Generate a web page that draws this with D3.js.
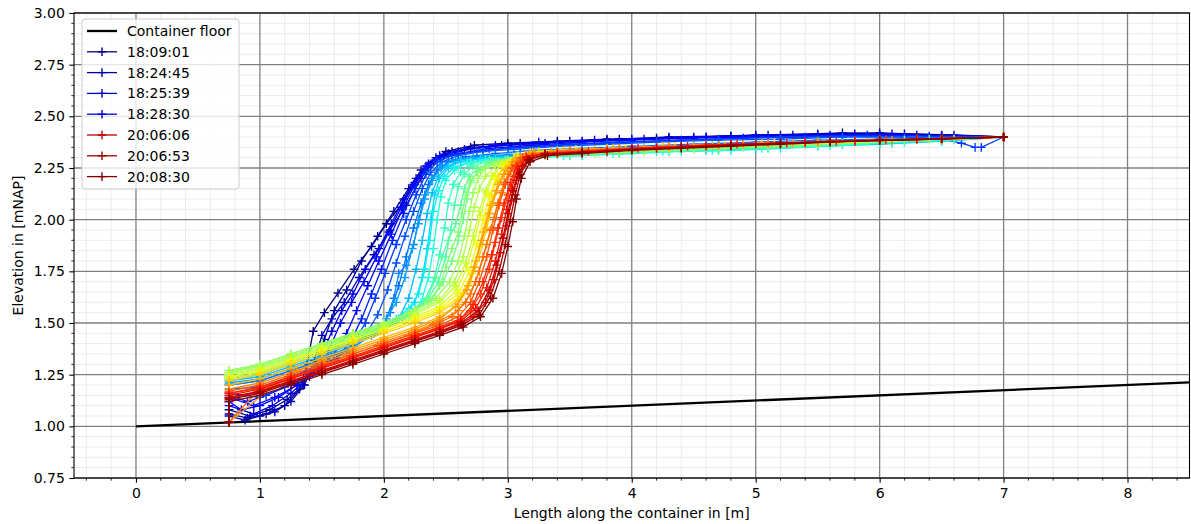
<!DOCTYPE html>
<html>
<head>
<meta charset="utf-8">
<script src="https://cdn.jsdelivr.net/npm/d3@7"></script>
<style>
    body { margin: 0; background: #fff; }
    svg text { font-family: "DejaVu Sans", sans-serif; font-size: 14px; fill: #000; }
</style>
</head>
<body>
<svg id="chart" width="1191" height="524"></svg>
<script>
// container floor, straight line
const floorX = [0, 8.5];
const floorY = [1.0, 1.2125];

const xTicks = [0, 1, 2, 3, 4, 5, 6, 7, 8];
const yTicks = [0.75, 1.0, 1.25, 1.5, 1.75, 2.0, 2.25, 2.5, 2.75, 3.0];

// profiles that get a legend entry
const legendIndex = [0, 1, 2, 3, 37, 38, 39];
const legendTimes = ["18:09:01", "18:24:45", "18:25:39", "18:28:30", "20:06:06", "20:06:53", "20:08:30"];

// measured bed profiles [x, z], in time order
const profiles = [
    [[0.75,1.02],[0.75,1.06],[0.9,1.04],[1.05,1.06],[1.2,1.1],[1.32,1.18],[1.38,1.3],[1.43,1.46],[1.52,1.55],[1.63,1.645],[1.76,1.76],[1.9,1.87],[2.02,1.98],[2.15,2.08],[2.25,2.18],[2.38,2.27],[2.5,2.33],[2.73,2.36],[3.0,2.37],[3.4,2.38],[3.8,2.39],[4.2,2.395],[4.6,2.4],[5.0,2.41],[5.5,2.415],[6.0,2.42],[6.5,2.41],[7.0,2.4]],
    [[0.75,1.02],[0.75,1.08],[0.92,1.05],[1.08,1.08],[1.22,1.13],[1.35,1.2],[1.45,1.3],[1.52,1.42],[1.6,1.56],[1.7,1.66],[1.82,1.8],[1.95,1.92],[2.08,2.04],[2.2,2.15],[2.3,2.24],[2.42,2.3],[2.55,2.33],[2.8,2.35],[3.1,2.37],[3.5,2.38],[3.9,2.39],[4.3,2.4],[4.8,2.405],[5.2,2.41],[5.7,2.42],[6.2,2.415],[6.6,2.41],[7.0,2.4]],
    [[0.75,1.02],[0.75,1.05],[0.88,1.03],[1.0,1.05],[1.12,1.07],[1.25,1.12],[1.36,1.2],[1.44,1.32],[1.5,1.44],[1.58,1.52],[1.68,1.6],[1.8,1.72],[1.92,1.83],[2.05,1.95],[2.18,2.07],[2.3,2.2],[2.4,2.28],[2.52,2.32],[2.7,2.35],[3.0,2.36],[3.4,2.375],[3.8,2.385],[4.3,2.395],[4.8,2.405],[5.3,2.41],[5.8,2.415],[6.3,2.41],[7.0,2.4]],
    [[0.75,1.02],[0.75,1.1],[0.95,1.06],[1.1,1.1],[1.25,1.16],[1.4,1.24],[1.5,1.34],[1.58,1.46],[1.66,1.56],[1.75,1.64],[1.85,1.76],[1.96,1.86],[2.06,1.98],[2.16,2.1],[2.26,2.2],[2.36,2.27],[2.48,2.31],[2.65,2.34],[2.95,2.36],[3.3,2.37],[3.7,2.385],[4.1,2.39],[4.6,2.4],[5.1,2.41],[5.6,2.41],[6.1,2.415],[6.5,2.4],[7.0,2.4]],
    [[0.75,1.02],[0.75,1.12],[0.85,1.08],[1.0,1.1],[1.15,1.14],[1.3,1.2],[1.45,1.27],[1.55,1.36],[1.65,1.5],[1.74,1.6],[1.84,1.7],[1.94,1.82],[2.04,1.94],[2.14,2.06],[2.24,2.17],[2.34,2.26],[2.45,2.31],[2.6,2.33],[2.9,2.36],[3.25,2.375],[3.6,2.38],[4.0,2.39],[4.5,2.4],[5.0,2.405],[5.5,2.41],[6.0,2.41],[6.5,2.405],[7.0,2.4]],
    [[0.75,1.02],[0.75,1.14],[0.95,1.1],[1.12,1.14],[1.3,1.2],[1.45,1.27],[1.6,1.35],[1.7,1.45],[1.78,1.56],[1.87,1.68],[1.96,1.8],[2.06,1.93],[2.15,2.05],[2.25,2.17],[2.35,2.26],[2.46,2.3],[2.6,2.32],[2.85,2.345],[3.2,2.36],[3.6,2.375],[4.0,2.385],[4.5,2.395],[5.0,2.4],[5.5,2.41],[6.0,2.41],[6.5,2.405],[7.0,2.4]],
    [[0.75,1.02],[0.75,1.15],[0.9,1.12],[1.05,1.15],[1.25,1.2],[1.45,1.26],[1.62,1.33],[1.74,1.42],[1.82,1.52],[1.9,1.64],[1.98,1.76],[2.07,1.9],[2.16,2.03],[2.25,2.15],[2.33,2.24],[2.42,2.29],[2.55,2.315],[2.8,2.335],[3.1,2.35],[3.5,2.365],[3.9,2.375],[4.4,2.385],[4.9,2.395],[5.4,2.4],[5.9,2.41],[6.4,2.405],[7.0,2.4]],
    [[0.75,1.02],[0.75,1.16],[1.0,1.14],[1.2,1.19],[1.4,1.25],[1.6,1.32],[1.75,1.4],[1.85,1.5],[1.93,1.62],[2.01,1.74],[2.1,1.88],[2.18,2.0],[2.26,2.12],[2.34,2.22],[2.43,2.28],[2.55,2.31],[2.75,2.33],[3.0,2.345],[3.4,2.36],[3.8,2.37],[4.2,2.38],[4.7,2.39],[5.2,2.4],[5.7,2.405],[6.2,2.4],[6.5,2.39],[6.66,2.37],[6.77,2.35],[6.82,2.35],[7.0,2.4]],
    [[0.75,1.02],[0.75,1.18],[1.0,1.19],[1.25,1.24],[1.5,1.3],[1.7,1.36],[1.85,1.44],[1.95,1.54],[2.03,1.66],[2.1,1.79],[2.17,1.92],[2.24,2.04],[2.31,2.15],[2.38,2.23],[2.47,2.28],[2.6,2.31],[2.8,2.33],[3.05,2.34],[3.4,2.355],[3.8,2.365],[4.2,2.375],[4.7,2.385],[5.2,2.39],[5.7,2.4],[6.2,2.4],[6.6,2.4],[7.0,2.4]],
    [[0.75,1.02],[0.75,1.2],[1.0,1.22],[1.25,1.27],[1.5,1.32],[1.75,1.39],[1.95,1.46],[2.05,1.55],[2.12,1.68],[2.18,1.82],[2.24,1.96],[2.3,2.08],[2.36,2.17],[2.43,2.24],[2.52,2.28],[2.66,2.305],[2.9,2.32],[3.2,2.335],[3.6,2.345],[4.0,2.355],[4.5,2.365],[5.0,2.375],[5.5,2.385],[6.0,2.39],[6.5,2.395],[7.0,2.4]],
    [[0.75,1.02],[0.75,1.2],[1.0,1.22],[1.25,1.27],[1.5,1.32],[1.75,1.38],[1.92,1.45],[2.02,1.52],[2.08,1.62],[2.12,1.74],[2.18,1.78],[2.24,1.88],[2.28,2.0],[2.33,2.12],[2.39,2.2],[2.47,2.26],[2.58,2.29],[2.75,2.305],[3.0,2.315],[3.4,2.325],[3.8,2.335],[4.2,2.345],[4.6,2.35],[5.0,2.36],[5.5,2.37],[6.0,2.38],[6.5,2.39],[7.0,2.4]],
    [[0.75,1.02],[0.75,1.21],[1.0,1.23],[1.25,1.28],[1.5,1.33],[1.75,1.39],[1.9,1.44],[2.0,1.5],[2.1,1.6],[2.17,1.72],[2.23,1.86],[2.28,1.98],[2.33,2.1],[2.39,2.19],[2.46,2.25],[2.56,2.285],[2.72,2.3],[3.0,2.31],[3.4,2.32],[3.8,2.33],[4.2,2.34],[4.6,2.35],[5.0,2.355],[5.5,2.365],[6.0,2.375],[6.5,2.385],[7.0,2.4]],
    [[0.75,1.02],[0.75,1.22],[1.0,1.24],[1.25,1.29],[1.5,1.34],[1.75,1.4],[2.0,1.46],[2.12,1.52],[2.2,1.62],[2.26,1.76],[2.31,1.9],[2.35,2.03],[2.39,2.13],[2.44,2.21],[2.52,2.26],[2.62,2.29],[2.8,2.3],[3.1,2.31],[3.5,2.32],[3.9,2.33],[4.3,2.335],[4.7,2.34],[5.1,2.35],[5.6,2.36],[6.1,2.37],[6.5,2.38],[7.0,2.4]],
    [[0.75,1.02],[0.75,1.22],[1.0,1.25],[1.25,1.3],[1.5,1.35],[1.75,1.41],[2.0,1.47],[2.15,1.52],[2.25,1.6],[2.31,1.72],[2.35,1.86],[2.38,2.0],[2.41,2.12],[2.45,2.2],[2.52,2.25],[2.62,2.28],[2.78,2.295],[3.05,2.305],[3.4,2.315],[3.8,2.325],[4.2,2.33],[4.6,2.335],[5.0,2.34],[5.5,2.355],[6.0,2.365],[6.5,2.38],[7.0,2.4]],
    [[0.75,1.02],[0.75,1.23],[1.0,1.26],[1.25,1.31],[1.5,1.36],[1.75,1.42],[1.95,1.47],[2.1,1.52],[2.2,1.57],[2.28,1.64],[2.33,1.76],[2.37,1.9],[2.4,2.04],[2.44,2.14],[2.49,2.21],[2.57,2.255],[2.7,2.28],[2.9,2.295],[3.2,2.3],[3.6,2.31],[4.0,2.32],[4.4,2.33],[4.8,2.335],[5.2,2.345],[5.7,2.36],[6.2,2.375],[6.6,2.385],[7.0,2.4]],
    [[0.75,1.02],[0.75,1.23],[1.0,1.26],[1.25,1.31],[1.5,1.36],[1.75,1.42],[2.0,1.48],[2.2,1.53],[2.3,1.6],[2.36,1.72],[2.4,1.86],[2.43,2.0],[2.46,2.11],[2.5,2.19],[2.57,2.24],[2.67,2.275],[2.82,2.29],[3.1,2.3],[3.45,2.31],[3.85,2.32],[4.25,2.33],[4.65,2.335],[5.05,2.345],[5.5,2.355],[6.0,2.37],[6.5,2.385],[7.0,2.4]],
    [[0.75,1.02],[0.75,1.24],[1.0,1.27],[1.25,1.32],[1.5,1.37],[1.75,1.43],[2.0,1.49],[2.2,1.54],[2.32,1.6],[2.4,1.7],[2.45,1.83],[2.49,1.96],[2.52,2.08],[2.56,2.17],[2.62,2.23],[2.7,2.27],[2.85,2.29],[3.1,2.3],[3.5,2.31],[3.9,2.32],[4.3,2.33],[4.7,2.335],[5.1,2.345],[5.6,2.36],[6.1,2.375],[6.5,2.385],[7.0,2.4]],
    [[0.75,1.02],[0.75,1.25],[1.0,1.28],[1.25,1.33],[1.5,1.38],[1.75,1.44],[2.0,1.5],[2.2,1.55],[2.35,1.61],[2.44,1.7],[2.5,1.82],[2.54,1.95],[2.57,2.07],[2.6,2.16],[2.65,2.22],[2.72,2.26],[2.86,2.285],[3.1,2.3],[3.5,2.31],[3.9,2.32],[4.3,2.33],[4.7,2.34],[5.1,2.35],[5.6,2.36],[6.1,2.375],[6.5,2.385],[7.0,2.4]],
    [[0.75,1.02],[0.75,1.26],[1.0,1.29],[1.25,1.34],[1.5,1.39],[1.75,1.45],[2.0,1.5],[2.2,1.55],[2.35,1.62],[2.42,1.72],[2.47,1.82],[2.52,1.9],[2.58,1.98],[2.62,2.07],[2.65,2.15],[2.69,2.21],[2.76,2.25],[2.88,2.28],[3.1,2.3],[3.5,2.315],[3.9,2.325],[4.3,2.335],[4.7,2.345],[5.1,2.355],[5.6,2.365],[6.1,2.38],[6.5,2.39],[7.0,2.4]],
    [[0.75,1.02],[0.75,1.27],[1.0,1.3],[1.25,1.35],[1.5,1.4],[1.75,1.45],[2.0,1.5],[2.2,1.55],[2.38,1.61],[2.48,1.7],[2.55,1.8],[2.6,1.9],[2.64,2.0],[2.67,2.1],[2.7,2.18],[2.75,2.23],[2.84,2.27],[2.98,2.29],[3.2,2.305],[3.6,2.32],[4.0,2.33],[4.4,2.34],[4.8,2.35],[5.2,2.36],[5.7,2.37],[6.2,2.385],[6.6,2.39],[7.0,2.4]],
    [[0.75,1.02],[0.75,1.26],[1.0,1.3],[1.25,1.35],[1.5,1.4],[1.75,1.45],[2.0,1.5],[2.2,1.55],[2.36,1.6],[2.45,1.68],[2.5,1.77],[2.55,1.86],[2.6,1.94],[2.63,2.03],[2.66,2.12],[2.7,2.19],[2.78,2.24],[2.9,2.275],[3.05,2.295],[3.3,2.31],[3.7,2.32],[4.1,2.33],[4.5,2.34],[4.9,2.35],[5.4,2.36],[5.9,2.375],[6.4,2.39],[7.0,2.4]],
    [[0.75,1.02],[0.75,1.27],[1.0,1.3],[1.25,1.35],[1.5,1.4],[1.75,1.45],[2.0,1.5],[2.25,1.56],[2.42,1.62],[2.53,1.7],[2.6,1.8],[2.65,1.92],[2.69,2.04],[2.72,2.13],[2.76,2.2],[2.82,2.25],[2.92,2.28],[3.08,2.3],[3.3,2.31],[3.7,2.325],[4.1,2.335],[4.5,2.345],[4.9,2.355],[5.3,2.365],[5.8,2.375],[6.3,2.385],[7.0,2.4]],
    [[0.75,1.02],[0.75,1.26],[1.0,1.29],[1.25,1.34],[1.5,1.39],[1.75,1.44],[2.0,1.49],[2.25,1.55],[2.45,1.61],[2.57,1.7],[2.64,1.82],[2.69,1.95],[2.73,2.06],[2.77,2.15],[2.82,2.21],[2.9,2.26],[3.0,2.29],[3.15,2.305],[3.4,2.315],[3.8,2.33],[4.2,2.34],[4.6,2.35],[5.0,2.36],[5.5,2.37],[6.0,2.38],[6.5,2.39],[7.0,2.4]],
    [[0.75,1.02],[0.75,1.25],[1.0,1.28],[1.25,1.33],[1.5,1.38],[1.75,1.43],[2.0,1.48],[2.25,1.54],[2.45,1.6],[2.58,1.68],[2.66,1.79],[2.72,1.92],[2.77,2.04],[2.82,2.14],[2.87,2.21],[2.95,2.27],[3.05,2.3],[3.2,2.32],[3.5,2.33],[3.9,2.34],[4.3,2.35],[4.7,2.355],[5.1,2.36],[5.5,2.37],[6.0,2.38],[6.5,2.39],[7.0,2.4]],
    [[0.75,1.02],[0.75,1.24],[1.0,1.27],[1.25,1.32],[1.5,1.37],[1.75,1.42],[2.0,1.47],[2.25,1.53],[2.45,1.58],[2.59,1.66],[2.67,1.77],[2.73,1.9],[2.78,2.02],[2.83,2.13],[2.88,2.21],[2.95,2.27],[3.05,2.3],[3.18,2.325],[3.4,2.335],[3.8,2.345],[4.2,2.35],[4.6,2.36],[5.0,2.365],[5.5,2.375],[6.0,2.385],[6.5,2.39],[7.0,2.4]],
    [[0.75,1.02],[0.75,1.24],[1.0,1.27],[1.25,1.32],[1.5,1.37],[1.75,1.42],[2.0,1.47],[2.25,1.52],[2.45,1.57],[2.6,1.64],[2.69,1.75],[2.75,1.88],[2.8,2.0],[2.85,2.11],[2.9,2.2],[2.97,2.26],[3.07,2.3],[3.22,2.32],[3.5,2.335],[3.9,2.345],[4.3,2.35],[4.7,2.36],[5.1,2.365],[5.5,2.37],[6.0,2.38],[6.5,2.39],[7.0,2.4]],
    [[0.75,1.02],[0.75,1.23],[1.0,1.26],[1.25,1.31],[1.5,1.36],[1.75,1.41],[2.0,1.46],[2.25,1.51],[2.45,1.56],[2.62,1.63],[2.71,1.74],[2.77,1.87],[2.82,2.0],[2.87,2.12],[2.92,2.21],[2.99,2.27],[3.08,2.31],[3.25,2.33],[3.55,2.34],[3.95,2.345],[4.35,2.355],[4.75,2.36],[5.15,2.37],[5.6,2.375],[6.05,2.385],[6.5,2.39],[7.0,2.4]],
    [[0.75,1.02],[0.75,1.22],[1.0,1.25],[1.25,1.3],[1.5,1.35],[1.75,1.4],[2.0,1.45],[2.25,1.5],[2.45,1.55],[2.6,1.61],[2.7,1.7],[2.77,1.82],[2.83,1.96],[2.88,2.08],[2.93,2.18],[2.99,2.25],[3.07,2.3],[3.2,2.325],[3.5,2.335],[3.9,2.345],[4.3,2.35],[4.7,2.36],[5.1,2.365],[5.5,2.375],[6.0,2.385],[6.5,2.39],[7.0,2.4]],
    [[0.75,1.02],[0.75,1.2],[1.0,1.23],[1.25,1.28],[1.5,1.33],[1.75,1.38],[2.0,1.43],[2.25,1.48],[2.45,1.53],[2.6,1.59],[2.68,1.68],[2.74,1.8],[2.8,1.94],[2.86,2.07],[2.92,2.17],[2.98,2.24],[3.06,2.29],[3.18,2.32],[3.45,2.335],[3.85,2.345],[4.25,2.355],[4.65,2.36],[5.05,2.37],[5.5,2.375],[6.0,2.385],[6.5,2.39],[7.0,2.4]],
    [[0.75,1.02],[1.12,1.2],[1.3,1.27],[1.5,1.32],[1.75,1.37],[2.0,1.42],[2.25,1.47],[2.45,1.52],[2.58,1.58],[2.67,1.66],[2.73,1.77],[2.79,1.9],[2.85,2.03],[2.91,2.14],[2.97,2.22],[3.04,2.28],[3.14,2.315],[3.35,2.33],[3.7,2.34],[4.1,2.35],[4.5,2.36],[4.9,2.365],[5.3,2.37],[5.8,2.38],[6.3,2.39],[7.0,2.4]],
    [[0.75,1.02],[0.75,1.18],[1.0,1.21],[1.25,1.26],[1.5,1.31],[1.75,1.36],[2.0,1.41],[2.25,1.46],[2.45,1.51],[2.6,1.56],[2.7,1.64],[2.77,1.75],[2.83,1.88],[2.89,2.01],[2.95,2.13],[3.0,2.22],[3.07,2.28],[3.17,2.315],[3.4,2.33],[3.8,2.34],[4.2,2.35],[4.6,2.36],[5.0,2.365],[5.5,2.375],[6.0,2.385],[6.5,2.39],[7.0,2.4]],
    [[0.75,1.02],[0.98,1.17],[1.2,1.22],[1.45,1.28],[1.7,1.34],[1.95,1.39],[2.2,1.44],[2.4,1.49],[2.55,1.53],[2.66,1.6],[2.74,1.7],[2.8,1.82],[2.86,1.95],[2.92,2.08],[2.97,2.18],[3.03,2.25],[3.1,2.3],[3.22,2.32],[3.5,2.335],[3.9,2.345],[4.3,2.355],[4.7,2.36],[5.1,2.37],[5.6,2.38],[6.1,2.385],[6.5,2.39],[7.0,2.4]],
    [[0.75,1.02],[0.75,1.17],[1.0,1.2],[1.25,1.25],[1.5,1.3],[1.75,1.35],[2.0,1.4],[2.25,1.45],[2.45,1.49],[2.6,1.53],[2.7,1.6],[2.77,1.7],[2.83,1.82],[2.88,1.95],[2.93,2.07],[2.98,2.17],[3.04,2.25],[3.12,2.3],[3.3,2.32],[3.6,2.33],[4.0,2.345],[4.4,2.355],[4.8,2.365],[5.2,2.37],[5.6,2.378],[6.0,2.385],[6.5,2.392],[7.0,2.4]],
    [[0.75,1.02],[0.75,1.16],[1.0,1.185],[1.25,1.235],[1.5,1.285],[1.75,1.335],[2.0,1.385],[2.25,1.435],[2.45,1.475],[2.6,1.51],[2.7,1.56],[2.78,1.64],[2.85,1.76],[2.9,1.89],[2.95,2.01],[3.0,2.12],[3.05,2.21],[3.11,2.27],[3.2,2.31],[3.4,2.325],[3.8,2.335],[4.2,2.35],[4.6,2.36],[5.0,2.368],[5.4,2.375],[5.8,2.382],[6.3,2.39],[7.0,2.4]],
    [[0.75,1.02],[0.75,1.16],[1.0,1.19],[1.25,1.24],[1.5,1.29],[1.75,1.34],[2.0,1.39],[2.25,1.44],[2.45,1.48],[2.62,1.52],[2.72,1.59],[2.8,1.7],[2.87,1.83],[2.92,1.96],[2.97,2.08],[3.02,2.18],[3.07,2.26],[3.15,2.305],[3.3,2.32],[3.6,2.33],[4.0,2.345],[4.4,2.355],[4.8,2.365],[5.2,2.37],[5.6,2.378],[6.0,2.385],[6.5,2.392],[7.0,2.4]],
    [[0.75,1.02],[0.75,1.15],[1.0,1.18],[1.25,1.23],[1.5,1.28],[1.75,1.33],[2.0,1.38],[2.25,1.43],[2.45,1.47],[2.62,1.51],[2.74,1.57],[2.83,1.67],[2.9,1.8],[2.95,1.93],[2.99,2.05],[3.03,2.15],[3.08,2.24],[3.15,2.3],[3.3,2.32],[3.65,2.33],[4.05,2.345],[4.45,2.355],[4.85,2.365],[5.25,2.37],[5.65,2.378],[6.05,2.385],[6.5,2.392],[7.0,2.4]],
    [[0.75,1.02],[0.75,1.135],[1.0,1.165],[1.25,1.215],[1.5,1.265],[1.75,1.315],[2.0,1.365],[2.25,1.415],[2.45,1.455],[2.6,1.49],[2.72,1.53],[2.82,1.6],[2.89,1.71],[2.94,1.84],[2.99,1.97],[3.03,2.09],[3.07,2.19],[3.12,2.26],[3.2,2.3],[3.4,2.32],[3.8,2.33],[4.2,2.345],[4.6,2.355],[5.0,2.365],[5.4,2.372],[5.8,2.38],[6.3,2.388],[7.0,2.4]],
    [[0.75,1.02],[0.75,1.14],[1.0,1.17],[1.25,1.22],[1.5,1.27],[1.75,1.32],[2.0,1.37],[2.25,1.42],[2.45,1.46],[2.62,1.5],[2.76,1.56],[2.85,1.66],[2.91,1.78],[2.96,1.91],[3.0,2.03],[3.04,2.14],[3.09,2.23],[3.16,2.29],[3.3,2.315],[3.6,2.325],[4.0,2.34],[4.4,2.35],[4.8,2.36],[5.2,2.37],[5.6,2.378],[6.0,2.385],[6.5,2.392],[7.0,2.4]],
    [[0.75,1.02],[0.75,1.13],[1.0,1.16],[1.25,1.21],[1.5,1.26],[1.75,1.31],[2.0,1.36],[2.25,1.41],[2.45,1.45],[2.63,1.49],[2.77,1.54],[2.86,1.63],[2.93,1.75],[2.98,1.88],[3.02,2.0],[3.06,2.12],[3.1,2.22],[3.17,2.29],[3.3,2.315],[3.6,2.325],[4.0,2.34],[4.4,2.35],[4.8,2.36],[5.2,2.37],[5.6,2.378],[6.0,2.385],[6.5,2.392],[7.0,2.4]],
    [[0.75,1.02],[0.75,1.12],[1.0,1.15],[1.25,1.2],[1.5,1.25],[1.75,1.3],[2.0,1.35],[2.25,1.4],[2.45,1.44],[2.64,1.48],[2.78,1.53],[2.88,1.62],[2.95,1.74],[3.0,1.87],[3.04,1.99],[3.07,2.1],[3.11,2.2],[3.18,2.28],[3.32,2.31],[3.6,2.32],[4.0,2.335],[4.4,2.345],[4.8,2.355],[5.2,2.365],[5.6,2.375],[6.0,2.383],[6.5,2.39],[7.0,2.4]]
];

// matplotlib "jet" colormap
const jetStops = [0, 0.11, 0.125, 0.34, 0.35, 0.375, 0.64, 0.65, 0.66, 0.89, 0.91, 1];
const jetColors = ["#000080", "#0000ff", "#0000ff", "#00dbff", "#00e6f7", "#15ffe2",
    "#eeff08", "#f7f600", "#ffec00", "#ff1300", "#e80000", "#800000"];

const margin = { left: 74, right: 1189.5, top: 13, bottom: 478 };

const svg = d3.select("#chart");

const x = d3.scaleLinear().domain([-0.5, 8.5]).range([margin.left, margin.right]);
const y = d3.scaleLinear().domain([0.75, 3.0]).range([margin.bottom, margin.top]);
const jet = d3.scaleLinear().domain(jetStops).range(jetColors).interpolate(d3.interpolateRgb);
const colour = i => jet(i / (profiles.length - 1));

const xMinor = d3.range(-2, 43).filter(k => k % 5 !== 0).map(k => k / 5);
const yMinor = d3.range(15, 61).filter(k => k % 5 !== 0).map(k => k / 20);

svg.append("defs")
    .append("clipPath")
    .attr("id", "plot-clip")
    .append("rect")
    .attr("x", margin.left)
    .attr("y", margin.top)
    .attr("width", margin.right - margin.left)
    .attr("height", margin.bottom - margin.top);

// Grid
const gGrid = svg.append("g");
gGrid.selectAll(".vminor").data(xMinor).join("line")
    .attr("x1", d => x(d)).attr("x2", d => x(d))
    .attr("y1", margin.top).attr("y2", margin.bottom)
    .attr("stroke", "#e6e6e6").attr("stroke-width", 0.8);
gGrid.selectAll(".hminor").data(yMinor).join("line")
    .attr("x1", margin.left).attr("x2", margin.right)
    .attr("y1", d => y(d)).attr("y2", d => y(d))
    .attr("stroke", "#e6e6e6").attr("stroke-width", 0.8);
gGrid.selectAll(".vmajor").data(xTicks).join("line")
    .attr("x1", d => x(d)).attr("x2", d => x(d))
    .attr("y1", margin.top).attr("y2", margin.bottom)
    .attr("stroke", "#808080").attr("stroke-width", 1.3);
gGrid.selectAll(".hmajor").data(yTicks).join("line")
    .attr("x1", margin.left).attr("x2", margin.right)
    .attr("y1", d => y(d)).attr("y2", d => y(d))
    .attr("stroke", "#808080").attr("stroke-width", 1.3);

// Data
const gData = svg.append("g").attr("clip-path", "url(#plot-clip)");

gData.append("path")
    .datum(d3.zip(floorX, floorY))
    .attr("d", d3.line().x(d => x(d[0])).y(d => y(d[1])))
    .attr("fill", "none")
    .attr("stroke", "#000")
    .attr("stroke-width", 2.3);

const plus = "M-4.3,0H4.3M0,-4.3V4.3";
const line = d3.line().x(d => x(d[0])).y(d => y(d[1]));

profiles.forEach((profile, i) => {
    const g = gData.append("g").attr("stroke", colour(i)).attr("fill", "none");
    g.append("path").attr("d", line(profile)).attr("stroke-width", 1.3);
    g.selectAll("path.m").data(profile).join("path")
        .attr("class", "m")
        .attr("d", plus)
        .attr("transform", d => `translate(${x(d[0])},${y(d[1])})`)
        .attr("stroke-width", 1.4);
});

// Axes
const xAxis = d3.axisBottom(x).tickValues(xTicks).tickFormat(d3.format("d")).tickSize(4.7).tickPadding(4.5);
const yAxis = d3.axisLeft(y).tickValues(yTicks).tickFormat(d3.format(".2f")).tickSize(4.7).tickPadding(4.5);

const gx = svg.append("g").attr("transform", `translate(0,${margin.bottom})`).call(xAxis);
const gy = svg.append("g").attr("transform", `translate(${margin.left},0)`).call(yAxis);
[gx, gy].forEach(g => {
    g.select(".domain").remove();
    g.selectAll("line").attr("stroke", "#000").attr("stroke-width", 1.1);
    g.selectAll("text").attr("font-size", null).attr("font-family", null);
});
gx.selectAll("text").attr("dy", "0.76em");

svg.append("g").selectAll("line").data(xMinor).join("line")
    .attr("x1", d => x(d)).attr("x2", d => x(d))
    .attr("y1", margin.bottom).attr("y2", margin.bottom + 2.7)
    .attr("stroke", "#000").attr("stroke-width", 0.8);
svg.append("g").selectAll("line").data(yMinor).join("line")
    .attr("x1", margin.left - 2.7).attr("x2", margin.left)
    .attr("y1", d => y(d)).attr("y2", d => y(d))
    .attr("stroke", "#000").attr("stroke-width", 0.8);

svg.append("rect")
    .attr("x", margin.left).attr("y", margin.top)
    .attr("width", margin.right - margin.left).attr("height", margin.bottom - margin.top)
    .attr("fill", "none").attr("stroke", "#000").attr("stroke-width", 1.1);

svg.append("text")
    .attr("x", (margin.left + margin.right) / 2)
    .attr("y", 518)
    .attr("text-anchor", "middle")
    .text("Length along the container in [m]");

svg.append("text")
    .attr("transform", `translate(23,${(margin.top + margin.bottom) / 2}) rotate(-90)`)
    .attr("text-anchor", "middle")
    .text("Elevation in [mNAP]");

// Legend
const gLegend = svg.append("g").attr("transform", "translate(82,19)");
gLegend.append("rect")
    .attr("width", 157).attr("height", 170).attr("rx", 3)
    .attr("fill", "#fff").attr("fill-opacity", 0.8)
    .attr("stroke", "#cccccc").attr("stroke-width", 1);

const legendRows = [{ label: "Container floor", colour: "#000", marker: false }]
    .concat(legendIndex.map((idx, k) => ({ label: legendTimes[k], colour: colour(idx), marker: true })));

const row = gLegend.selectAll("g.row").data(legendRows).join("g")
    .attr("class", "row")
    .attr("transform", (d, k) => `translate(0,${12 + k * 20.8})`);
row.append("line")
    .attr("x1", 5).attr("x2", 35)
    .attr("stroke", d => d.colour)
    .attr("stroke-width", d => (d.marker ? 1.3 : 2.3));
row.filter(d => d.marker).append("path")
    .attr("d", plus)
    .attr("transform", "translate(20,0)")
    .attr("stroke", d => d.colour)
    .attr("stroke-width", 1.4);
row.append("text")
    .attr("x", 45)
    .attr("dy", "0.36em")
    .text(d => d.label);
</script>
</body>
</html>
